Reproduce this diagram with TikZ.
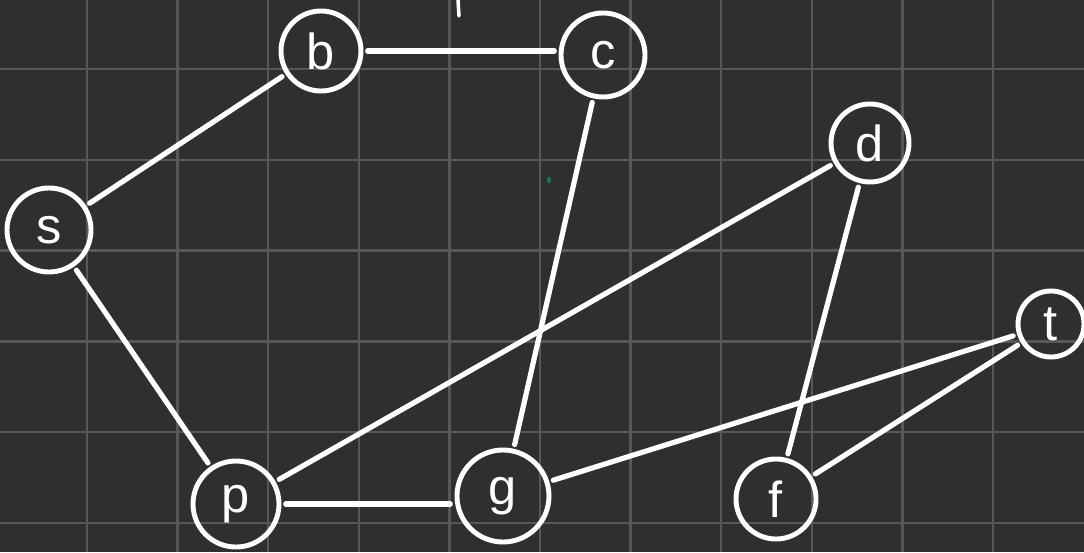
\documentclass[tikz,border=0pt]{standalone}
\usepackage{fontspec}
\setmainfont{Liberation Sans}
\usepackage{tikz}
\usetikzlibrary{positioning,calc}
\definecolor{board}{HTML}{2F2F2F}
\definecolor{gridgray}{HTML}{585858}
\definecolor{inkgreen}{HTML}{0B7A4E}

\begin{document}
\begin{tikzpicture}[
  x=0.025cm, y=-0.025cm,
  vtx/.style={circle, draw=white, line width=3.5pt, inner sep=0pt, minimum size=#1, text=white, font=\fontsize{36}{36}\selectfont},
  edge/.style={draw=white, line width=3.7pt, line cap=round, shorten <=3pt, shorten >=3pt},
]
  \fill[board] (0,0) rectangle (1084,552);
  \useasboundingbox (0,0) rectangle (1084,552);
  % grid
  \foreach \k in {0,...,10}
    \draw[gridgray, line width=1.8pt] ({87+90.6*\k},0) -- ({87+90.6*\k},552);
  \foreach \k in {0,...,5}
    \draw[gridgray, line width=1.8pt] (0,{69+90.8*\k}) -- (1084,{69+90.8*\k});

  \node[vtx=2.0cm] (b) at (321,51) {b};
  \node[vtx=2.1cm] (c) at (603,55) {c};
  \node[vtx=1.95cm] (d) at (870,143) {d};
  \node[vtx=2.1cm] (s) at (49,230) {s};
  \node[vtx=1.65cm] (t) at (1051,324) {t};
  \node[vtx=2.15cm] (p) at (236,504) {p};
  \node[vtx=2.3cm] (g) at (503,496) {g};
  \node[vtx=2.0cm] (f) at (776,499) {f};

  \draw[edge] (b.east) -- (c.west |- b.east);
  \draw[edge] (s) -- (b);
  \draw[edge] (s) -- (p);
  \draw[edge] (p.east) -- (g.west |- p.east);
  \draw[edge] (p) -- (d);
  \draw[edge] (c) -- (g);
  \draw[edge] (d) -- (f);
  \draw[edge] (g) -- (t);
  \draw[edge] (f) -- (t);

  % stray marks
  \draw[white, line width=2.5pt, line cap=round] (458,0) -- (459,16);
  \fill[inkgreen] (549,180) ellipse (2 and 3.5);
\end{tikzpicture}
\end{document}
